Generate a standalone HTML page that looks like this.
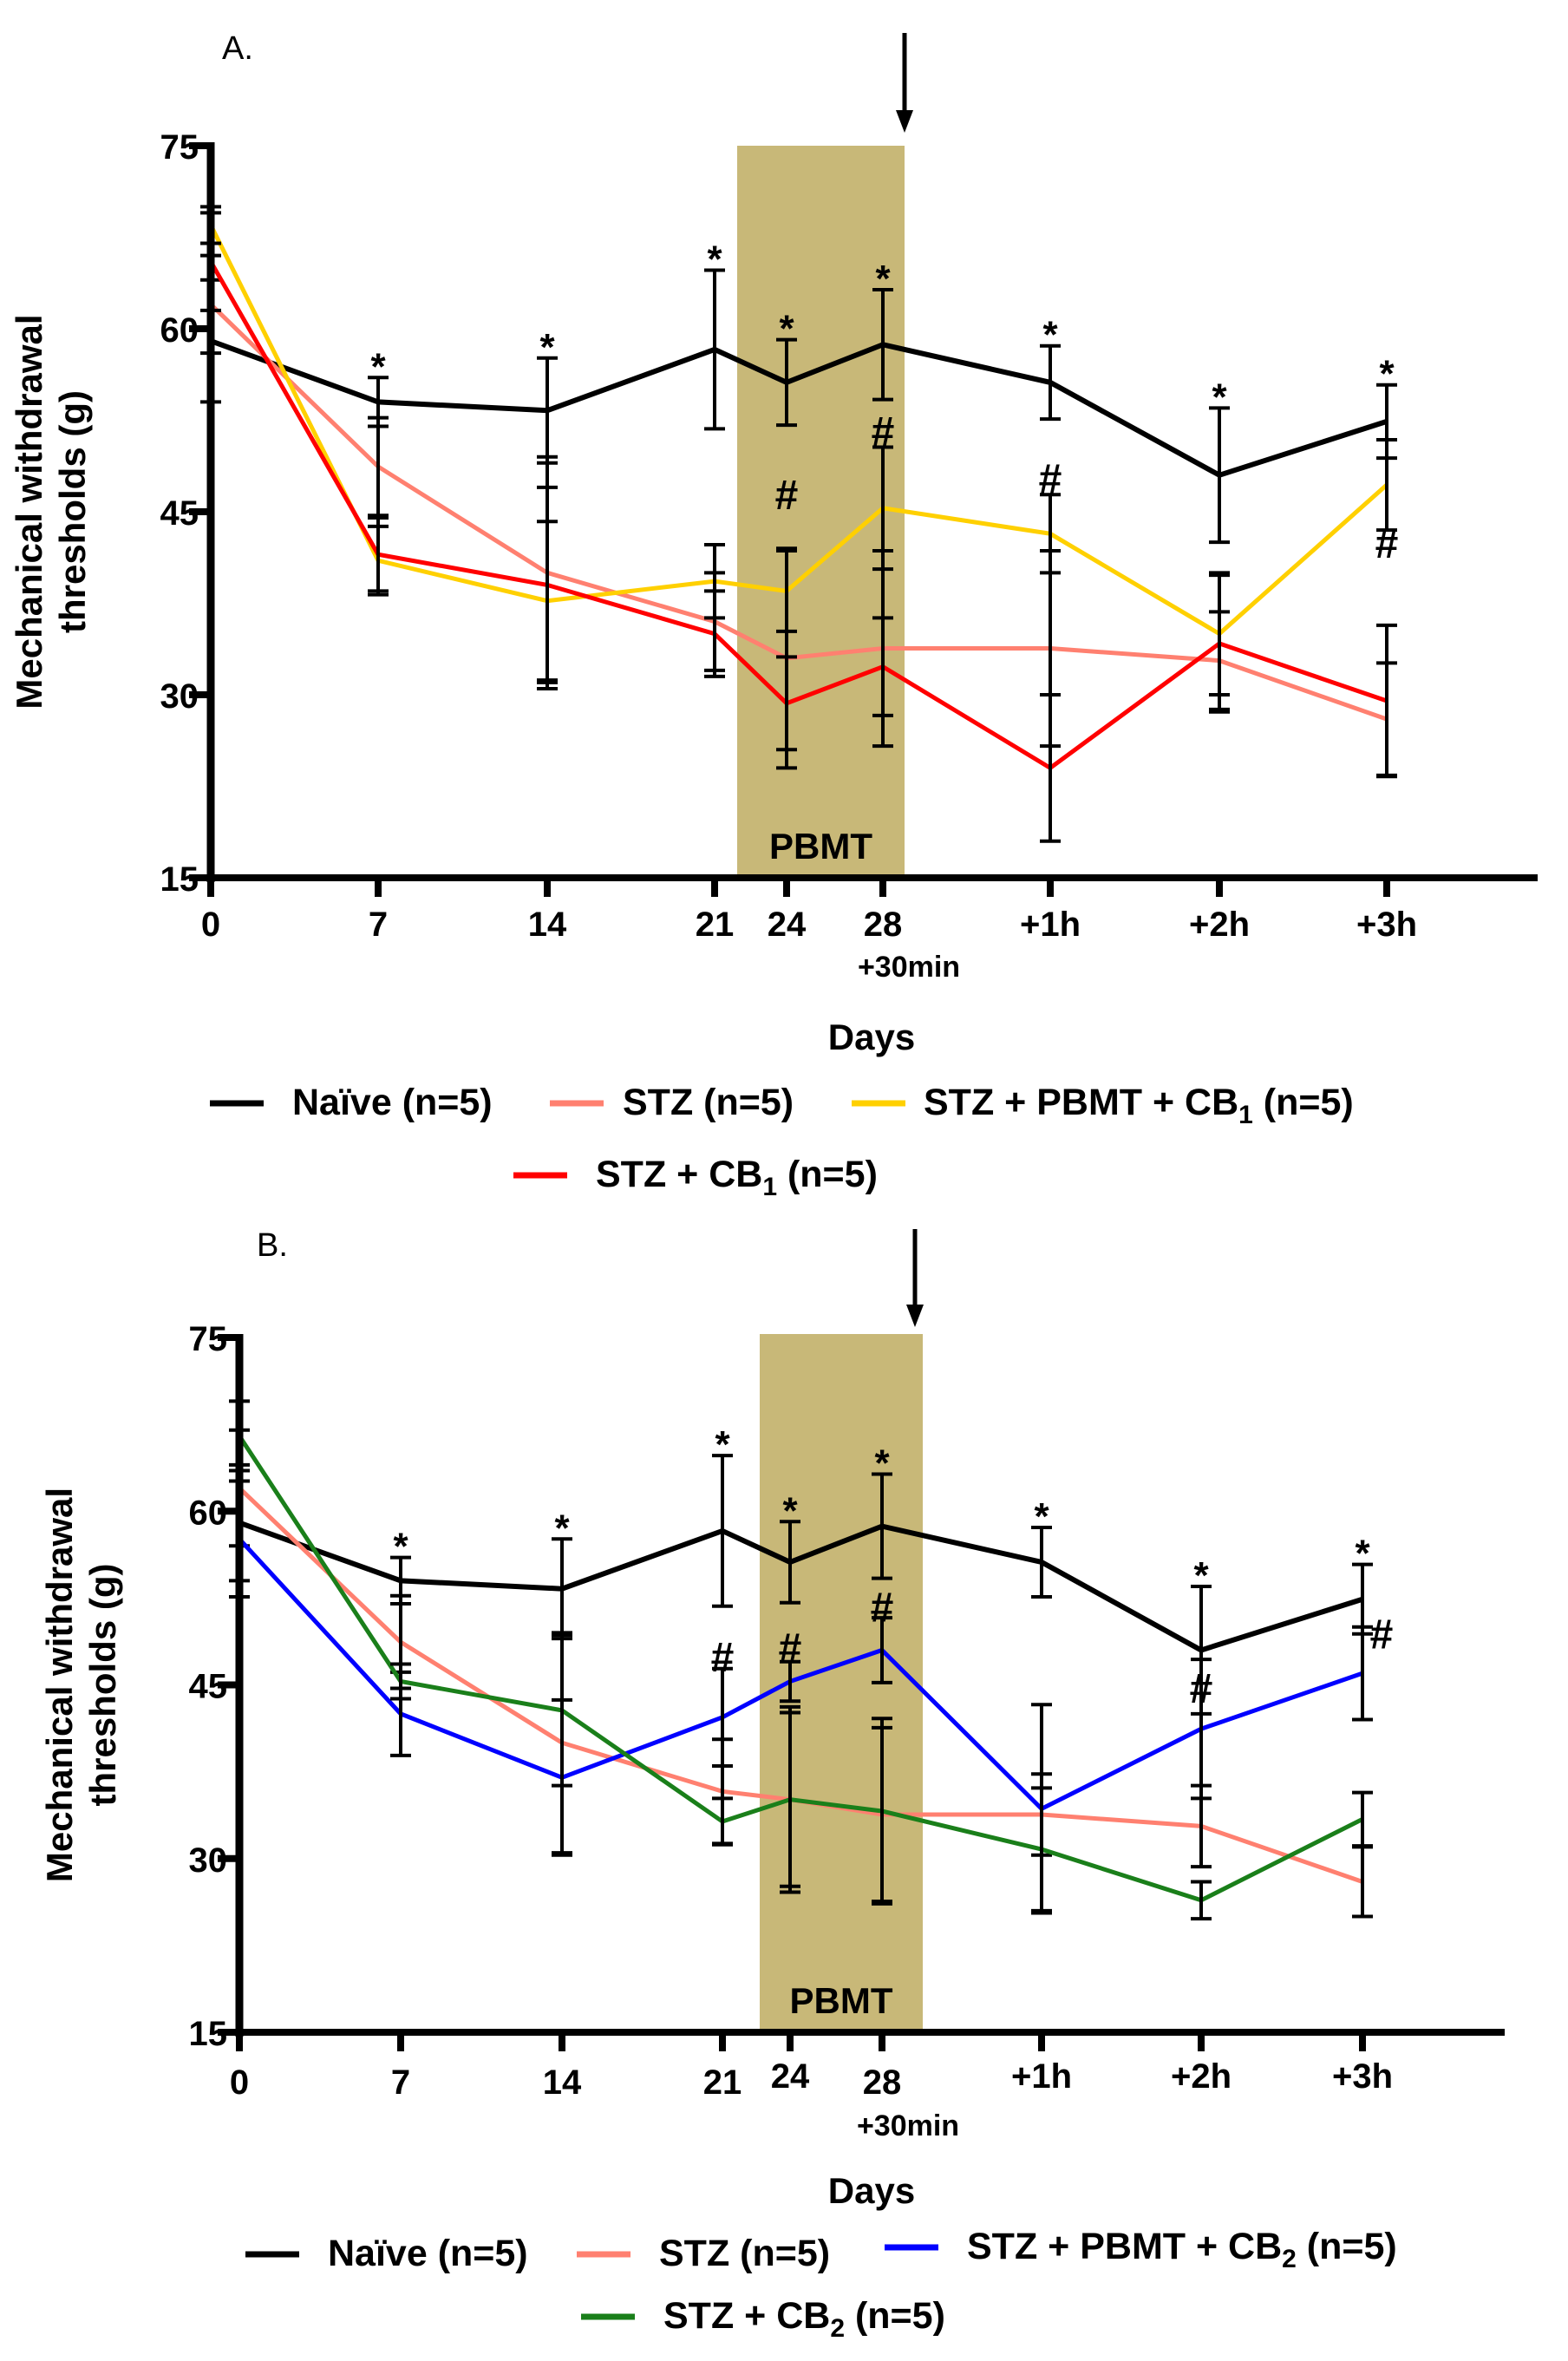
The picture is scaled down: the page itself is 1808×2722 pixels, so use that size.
<!DOCTYPE html>
<html><head><meta charset="utf-8"><style>
html,body{margin:0;padding:0;background:#fff}
svg{display:block}
text{font-family:"Liberation Sans",Arial,sans-serif;font-weight:bold}
</style></head><body>
<svg id="fig" width="1808" height="2722" viewBox="0 0 1808 2722" xmlns="http://www.w3.org/2000/svg"></svg>
<script>
const categories = ["0","7","14","21","24","28","+1h","+2h","+3h"];
const yTicks = [15,30,45,60,75];
// Panel A
const naiveA = [59,54,53.3,58.3,55.6,58.7,55.6,48,52.4];
const naiveErrA = [5,2,4.3,6.5,3.5,4.5,3,5.5,3];
const stzA = [62,48.7,40,36,33,33.8,33.8,32.8,28];
const stzErrA = [4,4,9.5,4,9,8,8,4,4.6];
const pbmtA = [68.5,41,37.7,39.3,38.5,45.3,43.2,35,47.2];
const pbmtErrA = [1.5,2.8,6.5,3,3.3,5,3.2,5,3.7];
const cbA = [65.5,41.5,39,35,29.3,32.3,24,34.2,29.5];
const cbErrA = [4,3,8,3.5,3.8,4,6,5.6,6.2];
const hashA = [null,null,null,null,46.5,51.7,47.8,null,42.5];
// Panel B
const naiveB = [59,54,53.3,58.3,55.6,58.7,55.6,48,52.4];
const naiveErrB = [5,2,4.3,6.5,3.5,4.5,3,5.5,3];
const stzB = [62,48.7,40,35.8,35.1,33.8,33.8,32.8,28];
const stzErrB = [5,4,9.5,4.5,7.5,7.5,3.5,3.5,3];
const blueB = [57.6,42.5,37,42.2,45.3,48,34.3,41.2,46];
const blueErrB = [5,3.6,6.7,4.2,1.7,2.8,9,6,4];
const greenB = [66.5,45.3,42.8,33.2,35.1,34.1,30.8,26.4,33.4];
const greenErrB = [3,1.5,6.5,2,8,8,5.3,1.6,2.3];
const hashB = [null,null,null,47.5,48.3,51.8,null,44.8,49.5];
const legendA = ["Naïve (n=5)","STZ (n=5)","STZ + PBMT + CB","STZ + CB"];
const legendB = ["Naïve (n=5)","STZ (n=5)","STZ + PBMT + CB","STZ + CB"];

const NS="http://www.w3.org/2000/svg";
const svg=document.getElementById('fig');
function mk(tag,attrs,parent,txt){const e=document.createElementNS(NS,tag);for(const k in attrs)e.setAttribute(k,attrs[k]);if(txt!==undefined)e.textContent=txt;(parent||svg).appendChild(e);return e;}

function panel(cfg){
  const g=mk('g',{},svg);
  
  
  const X=i=>cfg.xs[i];
  const Y=v=>cfg.y15+(v-15)*(cfg.y75-cfg.y15)/60;
  const band=mk('rect',{x:cfg.band[0],y:cfg.bandTop,width:cfg.band[1]-cfg.band[0],height:cfg.y15-cfg.bandTop,fill:'#C8B878'},g);
  
  
  const pt=mk('text',{x:(cfg.band[0]+cfg.band[1])/2,y:cfg.y15-22,'text-anchor':'middle','font-size':42},g,'PBMT');
  
  
  const ar=mk('g',{},g);
  
  
  mk('line',{x1:cfg.arrowX,y1:cfg.arrowY[0],x2:cfg.arrowX,y2:cfg.arrowY[1]-20,stroke:'#000','stroke-width':5},ar);
  mk('polygon',{points:`${cfg.arrowX-10},${cfg.arrowY[1]-26} ${cfg.arrowX+10},${cfg.arrowY[1]-26} ${cfg.arrowX},${cfg.arrowY[1]}`,fill:'#000'},ar);
  const pl=mk('text',{x:cfg.letterPos[0],y:cfg.letterPos[1],'font-size':38,style:'font-weight:normal'},g,cfg.letter);
  
  
  cfg.series.forEach(s=>{
    const sg=mk('g',{},g);
    
    
    const pts=s.vals.map((v,i)=>X(i)+','+Y(v)).join(' ');
    mk('polyline',{points:pts,fill:'none',stroke:s.color,'stroke-width':s.w,'stroke-linejoin':'miter'},sg);
    s.vals.forEach((v,i)=>{
      const e=s.err[i];
      const eb=mk('g',{stroke:'#000','stroke-width':4},sg);
      
      
      mk('line',{x1:X(i),y1:Y(v+e),x2:X(i),y2:Y(v-e)},eb);
      mk('line',{x1:X(i)-12,y1:Y(v+e),x2:X(i)+12,y2:Y(v+e)},eb);
      mk('line',{x1:X(i)-12,y1:Y(v-e),x2:X(i)+12,y2:Y(v-e)},eb);
    });
  });
  const nv=cfg.series[0];
  nv.vals.forEach((v,i)=>{if(i===0)return;
    const st=mk('text',{x:X(i),y:Y(v+nv.err[i])+2,'text-anchor':'middle','font-size':44},g,'*');
    
    
  });
  cfg.hash.forEach((v,i)=>{if(v===null)return;
    const dx=(cfg.letter==='B.'&&i===8)?22:0;
    const h=mk('text',{x:X(i)+dx,y:Y(v)+18,'text-anchor':'middle','font-size':48},g,'#');
    
    
  });
  const ax=mk('g',{stroke:'#000'},g);
  
  
  mk('line',{x1:cfg.x0,y1:cfg.y75-4,x2:cfg.x0,y2:cfg.y15+5,'stroke-width':9},ax);
  mk('line',{x1:cfg.x0-25,y1:cfg.y15,x2:cfg.xEnd,y2:cfg.y15,'stroke-width':8},ax);
  yTicks.forEach(t=>{
    mk('line',{x1:cfg.x0-25,y1:Y(t),x2:cfg.x0,y2:Y(t),'stroke-width':8},ax);
    const tl=mk('text',{x:cfg.x0-14,y:Y(t)+15,'text-anchor':'end','font-size':40,stroke:'none'},g,String(t));
    
    
  });
  categories.forEach((c,i)=>{
    mk('line',{x1:X(i),y1:cfg.y15,x2:X(i),y2:cfg.y15+22,'stroke-width':8},ax);
    const tl=mk('text',{x:X(i),y:cfg.xLabY[i],'text-anchor':'middle','font-size':40},g,c);
    
    
  });
  const m=mk('text',{x:X(5)+30,y:cfg.minY,'text-anchor':'middle','font-size':34},g,'+30min');
  
  
  const dt=mk('text',{x:cfg.daysX,y:cfg.daysY,'text-anchor':'middle','font-size':42},g,'Days');
  
  
  const yt=mk('text',{transform:`translate(${cfg.ylabX},${(cfg.y15+cfg.y75)/2}) rotate(-90)`,'text-anchor':'middle','font-size':42},g);
  
  
  mk('tspan',{x:0,dy:-10},yt,'Mechanical withdrawal');
  mk('tspan',{x:0,dy:50},yt,'thresholds (g)');
  cfg.legend.forEach((L,k)=>{
    const le=mk('g',{},g);
    
    
    mk('line',{x1:L.x,y1:L.y-13,x2:L.x+62,y2:L.y-13,stroke:cfg.series[k].color,'stroke-width':7},le);
    const t=mk('text',{x:L.x+(L.off||95),y:L.y,'font-size':43},le,cfg.legendTxt[k]);
    if(k>=2){mk('tspan',{dy:10,'font-size':30},t,cfg.sub);mk('tspan',{dy:-10},t,' (n=5)');}
  });
}

panel({name:'panel-a',letter:'A.',letterPos:[256,68],
  xs:[243,436,631,824,907,1018,1211,1406,1599],x0:243,xEnd:1773,y75:168,y15:1012,
  band:[850,1043],bandTop:168,arrowX:1043,arrowY:[38,153],
  xLabY:[1079,1079,1079,1079,1079,1079,1079,1079,1079],minY:1126,daysX:1005,daysY:1210,ylabX:58,
  hash:hashA,sub:'1',legendTxt:legendA,
  legend:[{x:242,y:1285},{x:634,y:1285,off:84},{x:982,y:1285,off:83},{x:592,y:1368}],
  series:[{name:'series-naive',vals:naiveA,err:naiveErrA,color:'#000',w:6},
          {name:'series-stz',vals:stzA,err:stzErrA,color:'#FF8070',w:5},
          {name:'series-stz-pbmt-cb1',vals:pbmtA,err:pbmtErrA,color:'#FFD000',w:5},
          {name:'series-stz-cb1',vals:cbA,err:cbErrA,color:'#FF0000',w:5}]});

panel({name:'panel-b',letter:'B.',letterPos:[296,1448],
  xs:[276,462,648,833,911,1017,1201,1385,1571],x0:276,xEnd:1735,y75:1542,y15:2343,
  band:[876,1064],bandTop:1538,arrowX:1055,arrowY:[1417,1530],
  xLabY:[2414,2414,2414,2414,2407,2414,2407,2407,2407],minY:2462,daysX:1005,daysY:2540,ylabX:93,
  hash:hashB,sub:'2',legendTxt:legendB,
  legend:[{x:283,y:2612},{x:665,y:2612,off:95},{x:1020,y:2604,off:95},{x:670,y:2684}],
  series:[{name:'series-naive',vals:naiveB,err:naiveErrB,color:'#000',w:6},
          {name:'series-stz',vals:stzB,err:stzErrB,color:'#FF8070',w:5},
          {name:'series-stz-pbmt-cb2',vals:blueB,err:blueErrB,color:'#0000FF',w:5},
          {name:'series-stz-cb2',vals:greenB,err:greenErrB,color:'#1A7F1A',w:5}]});
</script>
</body></html>
